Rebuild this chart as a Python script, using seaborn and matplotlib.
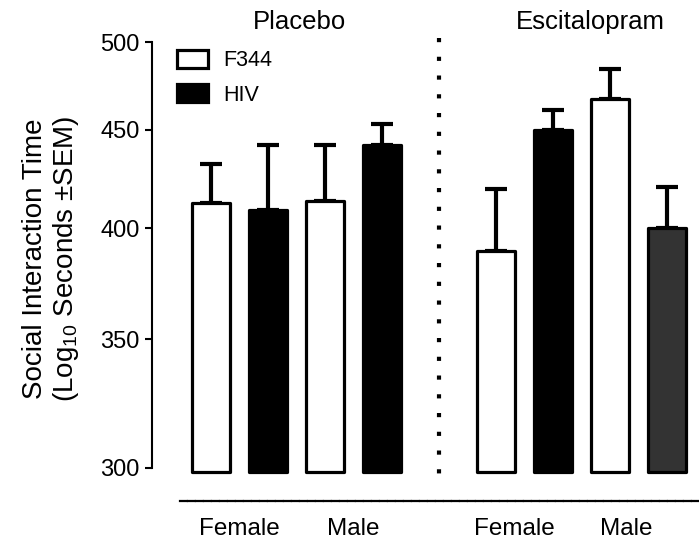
import numpy as np
import pandas as pd
import matplotlib
matplotlib.use("Agg")
import matplotlib.pyplot as plt
from matplotlib.patches import Patch
import matplotlib.transforms as mtransforms
import seaborn as sns

# ---- data ----
treatments = ["Placebo", "Placebo", "Placebo", "Placebo",
              "Escitalopram", "Escitalopram", "Escitalopram", "Escitalopram"]
sexes = ["Female", "Female", "Male", "Male", "Female", "Female", "Male", "Male"]
strains = ["F344", "HIV", "F344", "HIV", "F344", "HIV", "F344", "HIV"]
means = [412, 409, 413, 442, 389, 450, 467, 400]
sems = [20, 33, 29, 11, 30, 11, 17, 20]
group_titles = ["Placebo", "Escitalopram"]
legend_labels = ["F344", "HIV"]
x_tick_labels = ["Female", "Male", "Female", "Male"]
y_ticks = [300, 350, 400, 450, 500]

# ---- styles ----
bar_colors = ["white", "black", "white", "black", "white", "black", "white", "#333333"]

sns.set_style("white")
plt.rcParams["font.family"] = ["Liberation Sans", "DejaVu Sans"]
plt.rcParams["mathtext.fontset"] = "custom"
plt.rcParams["mathtext.rm"] = "Liberation Sans"
plt.rcParams["mathtext.default"] = "regular"
for k in ["text.color", "axes.labelcolor", "xtick.color", "ytick.color", "axes.edgecolor"]:
    plt.rcParams[k] = "black"

# positions: gap of one slot between treatment groups
gap = [0 if t == "Placebo" else 1 for t in treatments]
pos = [i + g for i, g in enumerate(gap)]
df = pd.DataFrame({"pos": pos, "mean": means, "sem": sems,
                   "bar": [f"b{i}" for i in range(len(means))]})

W, H = 699, 548
fig = plt.figure(figsize=(W / 100, H / 100), dpi=100)

# pixel geometry
y300_px, y500_px = 468, 42
ylo = 297.0
px_per_log = (y300_px - y500_px) / np.log10(500 / 300)
ybot_px = y300_px + np.log10(300 / ylo) * px_per_log
left_px, right_px = 152, 699
ax = fig.add_axes([left_px / W, (H - ybot_px) / H,
                   (right_px - left_px) / W, (ybot_px - y500_px) / H])

sns.barplot(data=df, x="pos", y="mean", hue="bar", palette=bar_colors,
            native_scale=True, dodge=False, width=0.67, legend=False,
            edgecolor="black", linewidth=2.3, errorbar=None, ax=ax)
ax.set_yscale("log")
ax.set_ylim(ylo, 500)
x_px0, x_step = 211, 57
ax.set_xlim((left_px - x_px0) / x_step, (right_px - x_px0) / x_step)

base = 298.6
for p in ax.patches:
    top = p.get_y() + p.get_height()
    p.set_y(base)
    p.set_height(top - base)
    p.set_joinstyle("round")
    p.set_zorder(3)

ax.errorbar(df["pos"], df["mean"], yerr=[np.zeros(len(sems)), df["sem"]],
            fmt="none", ecolor="black", elinewidth=3.0, capsize=7.9,
            capthick=3.0, zorder=2)

# axes styling
ax.set_yticks(y_ticks)
ax.set_yticklabels([str(v) for v in y_ticks])
ax.yaxis.set_minor_locator(matplotlib.ticker.NullLocator())
ax.tick_params(axis="y", length=5, width=1.5, direction="out", pad=4,
               labelsize=17, left=True)
ax.spines["top"].set_visible(False)
ax.spines["right"].set_visible(False)
ax.spines["left"].set_linewidth(1.5)
ax.spines["left"].set_bounds(300, 500)
ax.spines["bottom"].set_position(("outward", (501 - ybot_px) * 0.72))
ax.spines["bottom"].set_linewidth(1.6)
ax.spines["bottom"].set_linestyle((0, (3, 0.6)))
ax.spines["bottom"].set_bounds((180 - x_px0) / x_step, (right_px - x_px0) / x_step)

ax.set_xticks([0.5, 2.5, 5.33, 7.28])
ax.set_xticklabels(x_tick_labels)
ax.tick_params(axis="x", length=0, pad=12, labelsize=17.5)
ax.set_xlabel("")
ax.set_ylabel("Social Interaction Time\n(Log$_{10}$ Seconds \u00b1SEM)",
              fontsize=20, labelpad=14, linespacing=1.1)

# divider dotted line
trans = mtransforms.blended_transform_factory(ax.transData, ax.transAxes)
ax.plot([4, 4], [(ybot_px - 38) / (ybot_px - y500_px), (ybot_px - 484) / (ybot_px - y500_px)],
        transform=trans, color="black", lw=3.0, linestyle=(0, (1, 3.5)),
        solid_capstyle="butt", dash_capstyle="butt", clip_on=False)

# group titles
ty = (ybot_px - 22) / (ybot_px - y500_px)
ax.text(1.56, ty, group_titles[0], transform=trans, ha="center", va="center", fontsize=18.5)
ax.text(6.65, ty, group_titles[1], transform=trans, ha="center", va="center", fontsize=18.5)

# legend
handles = [Patch(facecolor=bar_colors[0], edgecolor="black", linewidth=2.3, joinstyle="round"),
           Patch(facecolor=bar_colors[1], edgecolor="black", linewidth=2.3, joinstyle="round")]
leg = ax.legend(handles, legend_labels, loc="upper left",
                bbox_to_anchor=((177 - left_px) / (right_px - left_px), (ybot_px - 50) / (ybot_px - y500_px)),
                frameon=False, fontsize=15.5, handlelength=1.45, handleheight=0.9,
                handletextpad=0.7, labelspacing=0.6, borderpad=0, borderaxespad=0)

fig.savefig("out.png", dpi=100)
